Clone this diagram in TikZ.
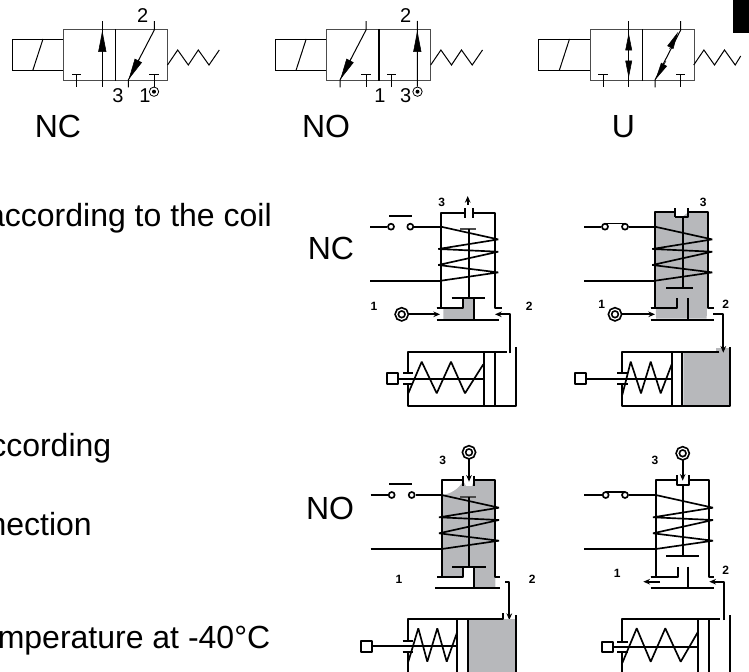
\documentclass[tikz,border=0pt]{standalone}
\usepackage{fontspec}
\setmainfont{Liberation Sans}
\usetikzlibrary{arrows.meta,calc}
\definecolor{valvegray}{RGB}{183,184,187}
\tikzset{
  thinline/.style={line width=0.75pt},
  wire/.style={line width=1.25pt,line join=bevel},
  bigtext/.style={font=\fontsize{24}{24}\selectfont,inner sep=0pt},
  numtext/.style={font=\fontsize{15}{15}\selectfont,inner sep=0pt},
  portnum/.style={font=\fontsize{9}{9}\selectfont\bfseries,inner sep=0pt},
  headlong/.style={-{Triangle[length=16pt,width=6pt]},line width=0.4pt},
  headshort/.style={-{Triangle[length=13pt,width=5pt]},line width=0.4pt},
  portring/.style={circle,draw,double,double distance=0.9pt,line width=1.3pt,minimum size=7.5pt,inner sep=0pt},
  switchpin/.style={circle,draw,wire,fill=white,minimum size=4.5pt,inner sep=0pt},
  symport/.style={circle,draw,line width=0.6pt,minimum size=7pt,inner sep=0pt,
    path picture={\fill (path picture bounding box.center) circle (1.5pt);}},
  valvebox/.pic={
    \draw[thinline] (-51.5,10) rectangle (0,41.7);
    \draw[thinline] (-30.8,41.7) -- (-20.5,10);
    \draw[thinline,draw=black!70] (0,0) rectangle (104,51.7);
    \draw[line width=1pt] (52.2,0) -- (52.2,51.7);
  },
  tee/.pic={
    \draw[thinline] (-4.7,0) -- (4.7,0) (0,0) -- (0,12.6);
  },
  returnspring/.pic={
    \draw[thinline] (0,0) -- (10.2,-15) -- (20.8,0) -- (30.8,-15) -- (41.5,0) -- (51.8,-15);
  },
  windings/.pic={
    \draw[wire] (0,0) -- (57.3,12.7) -- (-2.7,22.3) -- (57.3,25) -- (-2.7,38.3) -- (57.3,45.7) -- (0,54);
  },
}
\begin{document}
\begin{tikzpicture}[x=0.75pt,y=-0.75pt,>={Stealth[length=5pt,width=4.2pt]}]
    \clip (0,0) rectangle (749,671);
    \fill (733,-1) rectangle (750,33);

    % symbols along the top
    \pic at (63.5,29) {valvebox};
    \pic at (167.5,65) {returnspring};
    \pic at (76.7,74.7) {tee};
    \pic at (154,74.7) {tee};
    \node[symport] (sa) at (154,91.7) {};
    \draw[thinline] (102.3,21) -- (102.3,87.3);
    \draw[headlong] (102.3,55) -- (102.3,30.5);
    \draw[thinline] (154.3,21) -- (154.3,30) -- (128.3,80) -- (128.3,87.3);
    \draw[headlong] (139.7,58) -- (128.6,79.5);
    \node[numtext] (a2) at (142.7,15.7) {2};
    \node[numtext] (a3) at (118,96) {3};
    \node[numtext] (a1) at (145,96) {1};
    \node[bigtext] (anc) at (58,126.7) {NC};

    \pic at (326.7,29) {valvebox};
    \pic at (430.7,65) {returnspring};
    \pic at (366,74.7) {tee};
    \pic at (391.7,74.7) {tee};
    \node[symport] (sb) at (417.5,91.7) {};
    \draw[thinline] (366,21) -- (366,30) -- (340,80) -- (340,87.3);
    \draw[headlong] (351.4,58) -- (340.3,79.5);
    \draw[thinline] (417.3,21) -- (sb);
    \draw[headlong] (417.3,55) -- (417.3,30.5);
    \node[numtext] (b2) at (405.7,15.7) {2};
    \node[numtext] (b1) at (380,96) {1};
    \node[numtext] (b3) at (405.7,96) {3};
    \node[bigtext] (bno) at (326,126.7) {NO};

    \pic at (590,29) {valvebox};
    \draw[thinline] (693.7,65) -- (703.9,50) -- (714.5,65) -- (724.5,50) -- (735.2,65) -- (740.7,56);
    \pic at (603,74.7) {tee};
    \pic at (680.7,74.7) {tee};
    \draw[thinline] (628.7,21) -- (628.7,87.3);
    \draw[headshort] (628.7,50) -- (628.7,33);
    \draw[headshort] (628.7,60) -- (628.7,78);
    \draw[thinline] (680.7,21) -- (680.7,30) -- (655,80) -- (655,87.3);
    \draw[headshort] (669.5,49) -- (678,32);
    \draw[headshort] (666,61) -- (655.5,79.5);
    \node[bigtext] (cu) at (623.3,126.7) {U};

    % text cut off by the left edge
    \node[bigtext,anchor=base east] (t1) at (272,226.7) {according to the coil};
    \node[bigtext,anchor=base east] (t2) at (111.5,456.7) {ccording};
    \node[bigtext,anchor=base east] (t3) at (92,535) {nection};
    \node[bigtext,anchor=base east] (t4) at (270.5,648) {mperature at -40°C};
    \node[bigtext] (lnc) at (331,248) {NC};
    \node[bigtext] (lno) at (330,508) {NO};

    % NC, coil off
    \fill[valvegray] (443.3,308.3) -- (462.7,308.3) -- (462.7,299) -- (474,299) -- (474,320) -- (443.3,320) -- cycle;
    \node[switchpin] (d1b) at (391,226.7) {};
    \node[switchpin] (d1c) at (410.3,226.7) {};
    \draw[wire] (370,226.7) -- (d1b) (d1c) -- (441,226.7) (370,280.7) -- (441,280.7);
    \draw[wire] (389.3,216) -- (412.3,216);
    \pic at (441,226.7) {windings};
    \draw[wire] (436.7,308.3) -- (441,308.3) -- (441,213.3) -- (465,213.3) (465,208) -- (465,217.7);
    \draw[wire] (473.3,208) -- (473.3,217.7) (473.3,213.3) -- (495.3,213.3) -- (495.3,308.3) -- (501.7,308.3);
    \draw[wire,->] (467.7,205) -- (467.7,196);
    \draw[wire,draw=black!70] (460,229) -- (476,229);
    \draw[wire] (468.7,229) -- (468.7,298.3) (451.7,298.3) -- (485,298.3);
    \draw[wire] (436.7,308.3) -- (462.7,308.3) -- (462.7,298.3) (474,298.3) -- (474,320) (436.7,320) -- (499.3,320);
    \node[portring] (p1a) at (401.7,314.3) {};
    \coordinate (q1a) at (440,314.3);
    \coordinate (q2a) at (495,314.3);
    \draw[wire,->] (p1a) -- (q1a);
    \draw[wire,->] (510,353.3) -- (510,314.3) -- (q2a);
    \node[portnum] (n3a) at (441.7,202.3) {3};
    \node[portnum] (n1a) at (374,306.7) {1};
    \node[portnum] (n2a) at (529.3,306.7) {2};
    % cylinder
    \draw[wire] (506.7,352) -- (408.3,352) -- (408.3,372.7) (403.3,372.7) -- (413.3,372.7);
    \draw[wire] (403.3,384) -- (413.3,384) (408.3,384) -- (408.3,405.7) -- (516,405.7) -- (516,346.7);
    \draw[wire] (484,352) -- (484,405.7) (495,352) -- (495,405.7);
    \draw[wire] (398.3,379) -- (484,379);
    \draw[wire] (387.3,373.3) rectangle (398.3,384);
    \draw[wire] (408.3,393.3) -- (421.7,361.7) -- (436.7,393.3) -- (451,361.7) -- (465,393.3) -- (483.3,364.3);

    % NC, coil on
    \fill[valvegray] (655,212.3) -- (675,212.3) -- (675,217) -- (682,217) -- (688.3,212.3) -- (708.3,212.3) -- (706.7,318.5) -- (656,318.5) -- cycle;
    \fill[valvegray] (683.3,352.7) -- (716,352.7) -- (716,348) -- (729,348) -- (729,405.7) -- (683.3,405.7) -- cycle;
    \node[switchpin] (d2b) at (605,226.7) {};
    \node[switchpin] (d2c) at (625,226.7) {};
    \draw[wire] (584.3,226.7) -- (d2b) (d2c) -- (655,226.7) (584.3,280.7) -- (655,280.7);
    \draw[wire] (605,223.5) -- (625,223.5);
    \pic at (655,226.7) {windings};
    \draw[wire] (650.7,308.3) -- (655,308.3) -- (655,212.3) -- (675,212.3) -- (675,208);
    \draw[wire] (675,216.7) -- (688.3,216.7) -- (688.3,208) (688.3,212.3) -- (708.3,212.3) -- (708.3,308.3) -- (714,308.3);
    \draw[wire] (675,212.3) -- (675,216.7);
    \draw[wire] (682.7,216.7) -- (682.7,288.3) (666,288.3) -- (693.3,288.3);
    \draw[wire] (650.7,308.3) -- (676.7,308.3) -- (676.7,298.3) (687.7,298.3) -- (687.7,320) (650.7,320) -- (714,320);
    \node[portring] (p1b) at (615,314.3) {};
    \coordinate (q1b) at (655,314.3);
    \coordinate (q2b) at (723.3,352.7);
    \draw[wire,->] (p1b) -- (q1b);
    \draw[wire,->] (713.3,314.3) -- (723.3,314.3) -- (q2b);
    \node[portnum] (n3b) at (703.3,202) {3};
    \node[portnum] (n1b) at (601.7,304) {1};
    \node[portnum] (n2b) at (725.7,304) {2};
    % cylinder
    \draw[wire] (719.3,352) -- (622.3,352) -- (622.3,372.7) (617.3,372.7) -- (628.3,372.7);
    \draw[wire] (617.3,384) -- (628.3,384) (622.3,384) -- (622.3,405.7) -- (730,405.7) -- (730,346.7);
    \draw[wire] (671.7,352) -- (671.7,405.7) (682.3,352) -- (682.3,405.7);
    \draw[wire] (586,379) -- (671.7,379);
    \draw[wire] (575,373.3) rectangle (586,384);
    \draw[wire] (622.3,395) -- (630.7,361.7) -- (641,393.3) -- (650.7,361.7) -- (660.7,393.3) -- (671.7,364.3);

    % NO, coil off
    \fill[valvegray] (441.7,495) .. controls (450,494) and (458,490) .. (463.3,481) -- (466,486) -- (472,486) -- (474,480) -- (495.3,480) -- (495.3,587) -- (474,587) -- (474,566.7) -- (463.3,566.7) -- (463.3,577.3) -- (441.7,577.3) -- cycle;
    \node[switchpin] (d3b) at (391.7,495) {};
    \node[switchpin] (d3c) at (411.7,495) {};
    \draw[wire] (370.7,495) -- (d3b) (d3c) -- (441.7,495) (370.7,549) -- (441.7,549);
    \draw[wire] (389.3,484.3) -- (412.3,484.3);
    \pic at (441.7,495) {windings};
    \draw[wire] (437.3,577.3) -- (441.7,577.3) -- (441.7,480) -- (463.3,480) (463.3,475.7) -- (463.3,485.7);
    \draw[wire] (474,475.7) -- (474,485.7) (474,480) -- (495.3,480) -- (495.3,577.3) -- (500,577.3);
    \node[portring] (p3c) at (469,452.3) {};
    \coordinate (q3c) at (469,481.7);
    \draw[wire,->] (p3c) -- (q3c);
    \draw[wire,draw=black!70] (460,497.3) -- (476,497.3);
    \draw[wire] (469,497.3) -- (469,566.7) (452.3,566.7) -- (485.7,566.7);
    \draw[wire] (437.3,577.3) -- (463.3,577.3) -- (463.3,566.7) (474,566.7) -- (474,587.7) (435,587.7) -- (500,587.7);
    \coordinate (q2c) at (509.3,620);
    \draw[wire,->] (505,581.7) -- (509.3,581.7) -- (q2c);
    \node[portnum] (n3c) at (442.7,460) {3};
    \node[portnum] (n1c) at (399,579) {1};
    \node[portnum] (n2c) at (532.3,579) {2};
    % cylinder
    \fill[valvegray] (469,619.3) -- (515.7,619.3) -- (515.7,672) -- (469,672) -- cycle;
    \draw[wire] (503.3,613.3) -- (503.3,619.3) -- (408.3,619.3) -- (408.3,641) (402.7,641) -- (413.3,641);
    \draw[wire] (402.7,651.7) -- (413.3,651.7) (408.3,651.7) -- (408.3,672) (515.7,615) -- (515.7,672);
    \draw[wire] (457.3,619.3) -- (457.3,672) (468.3,619.3) -- (468.3,672);
    \draw[wire] (371.7,646) -- (457.3,646);
    \draw[wire] (360.7,641) rectangle (371.7,652);
    \draw[wire] (408.3,661.7) -- (418.3,628.3) -- (427.3,661.7) -- (437.3,628.3) -- (446.7,661.7) -- (457.3,631.7);

    % NO, coil on
    \node[switchpin] (d4b) at (605.7,495) {};
    \node[switchpin] (d4c) at (625,495) {};
    \draw[wire] (584.3,495) -- (d4b) (d4c) -- (655.7,495) (584.3,549) -- (655.7,549);
    \draw[wire] (605.7,491.8) -- (625,491.8);
    \pic at (655.7,495) {windings};
    \draw[wire] (650.7,577.3) -- (655.7,577.3) -- (655.7,480) -- (676.7,480) -- (676.7,475) (676.7,480) -- (676.7,485) -- (689.3,485) -- (689.3,475) (689.3,480) -- (709.3,480) -- (709.3,577.3) -- (714.3,577.3);
    \node[portring] (p3d) at (682.7,453.3) {};
    \coordinate (q3d) at (682.7,480.7);
    \draw[wire,->] (p3d) -- (q3d);
    \draw[wire] (683.3,485) -- (683.3,555.7) (666,555.7) -- (699.3,555.7);
    \draw[wire] (650.7,577.3) -- (677.7,577.3) -- (677.7,566.7) (688.3,566.7) -- (688.3,587.7) (650.7,587.7) -- (714.3,587.7);
    \coordinate (q1d) at (643.3,581.7);
    \coordinate (q2d) at (709.3,581.7);
    \draw[wire,->] (660,581.7) -- (q1d);
    \draw[wire,->] (724.3,620) -- (724.3,581.7) -- (q2d);
    \node[portnum] (n3d) at (655,460.7) {3};
    \node[portnum] (n1d) at (617.3,573.3) {1};
    \node[portnum] (n2d) at (725.7,570) {2};
    % cylinder
    \draw[wire] (720,619.3) -- (622.3,619.3) -- (622.3,641.7) (617.3,641.7) -- (628.3,641.7);
    \draw[wire] (617.3,652.3) -- (628.3,652.3) (622.3,652.3) -- (622.3,672) (730,615) -- (730,672);
    \draw[wire] (698.3,619.3) -- (698.3,672) (709,619.3) -- (709,672);
    \draw[wire] (613.3,646.7) -- (698.3,646.7);
    \draw[wire] (601.7,641.7) rectangle (613.3,652.3);
    \draw[wire] (622.3,663) -- (636.7,628.3) -- (650.7,661.7) -- (665.3,628.3) -- (680.7,661.7) -- (697.7,632.3);
\end{tikzpicture}
\end{document}
